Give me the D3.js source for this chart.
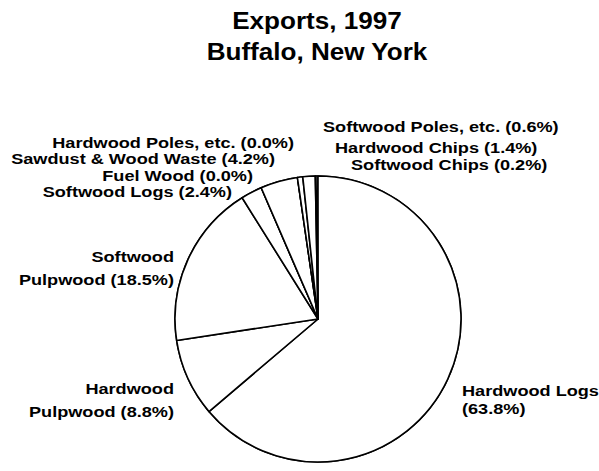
<!DOCTYPE html>
<html>
<head>
<meta charset="utf-8">
<script src="https://cdn.jsdelivr.net/npm/d3@7/dist/d3.min.js"></script>
<style>
  html, body { margin: 0; padding: 0; background: #fff; }
  svg { display: block; }
  text { font-family: "Liberation Sans", Arial, sans-serif; font-weight: bold; fill: #000; }
</style>
</head>
<body>
<svg id="chart" width="599" height="471"></svg>
<script>
// Export shares by product, clockwise from 12 o'clock
const categories = [
  "Hardwood Logs", "Hardwood Pulpwood", "Softwood Pulpwood", "Softwood Logs",
  "Fuel Wood", "Sawdust & Wood Waste", "Hardwood Poles, etc.", "Softwood Poles, etc.",
  "Hardwood Chips", "Softwood Chips"
];
const shares = [63.8, 8.8, 18.5, 2.4, 0.0, 4.2, 0.0, 0.6, 1.4, 0.2];
const titleLines = ["Exports, 1997", "Buffalo, New York"];

// Label placement: text lines, anchor, x, first baseline, line step
const labelLayout = {
  "Hardwood Logs":        { lines: ["Hardwood Logs", "(63.8%)"], anchor: "start", x: 462, y: 396, step: 18 },
  "Hardwood Pulpwood":    { lines: ["Hardwood", "Pulpwood (8.8%)"], anchor: "end", x: 174, y: 394, step: 23 },
  "Softwood Pulpwood":    { lines: ["Softwood", "Pulpwood (18.5%)"], anchor: "end", x: 174, y: 262, step: 23 },
  "Softwood Logs":        { anchor: "end", x: 232, y: 197 },
  "Fuel Wood":            { anchor: "end", x: 253, y: 181 },
  "Sawdust & Wood Waste": { anchor: "end", x: 275, y: 164 },
  "Hardwood Poles, etc.": { anchor: "end", x: 294, y: 148 },
  "Softwood Poles, etc.": { anchor: "start", x: 323, y: 132 },
  "Hardwood Chips":       { anchor: "start", x: 335, y: 153 },
  "Softwood Chips":       { anchor: "start", x: 351, y: 170 }
};

const svg = d3.select("#chart");
const cx = 318, cy = 319, radius = 143;

function addText(parent, lines, x, y, anchor, size, step, stretch) {
  const t = parent.append("text")
    .attr("transform", `translate(${x},${y}) scale(${stretch},1)`)
    .attr("text-anchor", anchor)
    .style("font-size", size + "px");
  t.selectAll("tspan")
    .data(lines)
    .join("tspan")
    .attr("x", 0)
    .attr("y", (d, i) => i * step)
    .text(d => d);
  return t;
}

// Title
addText(svg, titleLines, 317, 29, "middle", 23.5, 31, 1.11);

const data = categories.map((c, i) => ({ name: c, value: shares[i] }));

const pie = d3.pie()
  .value(d => d.value)
  .sort(null)
  .startAngle(0)
  .endAngle(2 * Math.PI * d3.sum(shares) / 100);

const arc = d3.arc().innerRadius(0).outerRadius(radius);

const g = svg.append("g").attr("transform", `translate(${cx},${cy})`);

// Full outline so the small residual gap stays closed
g.append("circle")
  .attr("r", radius)
  .attr("fill", "#fff")
  .attr("stroke", "#000")
  .attr("stroke-width", 1.6);

g.selectAll("path.slice")
  .data(pie(data))
  .join("path")
  .attr("class", "slice")
  .attr("d", arc)
  .attr("fill", "#fff")
  .attr("stroke", "#000")
  .attr("stroke-width", 1.6)
  .attr("stroke-linejoin", "round");

// Labels
const labels = svg.append("g");
data.forEach(d => {
  const L = labelLayout[d.name];
  const lines = L.lines || [`${d.name} (${d.value.toFixed(1)}%)`];
  addText(labels, lines, L.x, L.y, L.anchor, 15.5, L.step || 0, 1.17);
});
</script>
</body>
</html>
